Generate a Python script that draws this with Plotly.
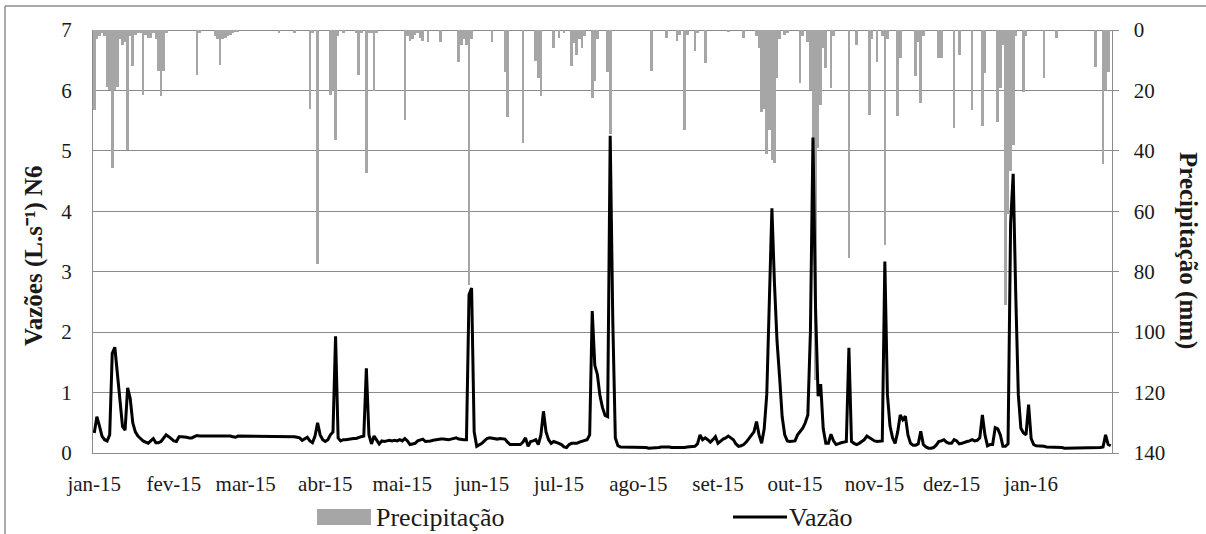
import datetime as dt
import plotly.graph_objects as go

# ---------------- data (daily, 2015-01-01 .. 2016-02-01) ----------------
rotulos_meses = ["jan-15", "fev-15", "mar-15", "abr-15", "mai-15", "jun-15", "jul-15",
                 "ago-15", "set-15", "out-15", "nov-15", "dez-15", "jan-16"]

# Vazão (L/s) - N6
vazao_jan15 = [0.33, 0.6, 0.45, 0.28, 0.22, 0.2, 0.3, 1.65, 1.75, 1.3, 0.8, 0.44, 0.38, 1.08, 0.9, 0.5,
               0.35, 0.28, 0.24, 0.2, 0.18, 0.16, 0.2, 0.24, 0.17, 0.17, 0.19, 0.25, 0.3, 0.27, 0.24]
vazao_fev15 = [0.2, 0.19, 0.27, 0.27, 0.27, 0.26, 0.25, 0.25, 0.27, 0.29, 0.28, 0.28, 0.28, 0.28,
               0.28, 0.28, 0.28, 0.29, 0.28, 0.28, 0.28, 0.28, 0.28, 0.27, 0.26, 0.28, 0.28, 0.28]
vazao_mar15 = [0.28, 0.28, 0.27, 0.28, 0.27, 0.27, 0.28, 0.27, 0.27, 0.28, 0.27, 0.27, 0.27, 0.28, 0.27,
               0.27, 0.27, 0.28, 0.27, 0.27, 0.26, 0.25, 0.21, 0.24, 0.26, 0.2, 0.17, 0.28, 0.5, 0.3, 0.22]
vazao_abr15 = [0.19, 0.22, 0.3, 0.35, 1.93, 0.25, 0.2, 0.22, 0.22, 0.23, 0.23, 0.24, 0.24, 0.26, 0.27,
               0.28, 1.4, 0.3, 0.15, 0.28, 0.22, 0.15, 0.2, 0.19, 0.2, 0.21, 0.2, 0.21, 0.2, 0.22]
vazao_mai15 = [0.2, 0.24, 0.2, 0.14, 0.15, 0.16, 0.2, 0.22, 0.23, 0.19, 0.19, 0.2, 0.21, 0.22, 0.22, 0.23,
               0.23, 0.22, 0.22, 0.23, 0.24, 0.25, 0.23, 0.22, 0.22, 0.22, 2.62, 2.73, 0.35, 0.11, 0.13]
vazao_jun15 = [0.16, 0.2, 0.24, 0.25, 0.24, 0.23, 0.23, 0.24, 0.24, 0.23, 0.18, 0.14, 0.14, 0.14, 0.15,
               0.14, 0.18, 0.25, 0.11, 0.19, 0.2, 0.22, 0.14, 0.3, 0.69, 0.35, 0.22, 0.16, 0.19, 0.18]
vazao_jul15 = [0.16, 0.14, 0.1, 0.09, 0.14, 0.16, 0.16, 0.16, 0.18, 0.19, 0.2, 0.22, 0.3, 2.35, 1.45, 1.3,
               0.95, 0.75, 0.62, 0.6, 5.25, 2.2, 0.25, 0.12, 0.1, 0.1, 0.1, 0.1, 0.1, 0.1, 0.1]
vazao_ago15 = [0.1, 0.09, 0.09, 0.09, 0.08, 0.08, 0.08, 0.09, 0.09, 0.1, 0.1, 0.11, 0.1, 0.09, 0.09, 0.08,
               0.08, 0.08, 0.09, 0.1, 0.1, 0.1, 0.11, 0.15, 0.3, 0.22, 0.25, 0.22, 0.18, 0.22, 0.27]
vazao_set15 = [0.16, 0.2, 0.23, 0.25, 0.28, 0.25, 0.22, 0.15, 0.11, 0.12, 0.14, 0.18, 0.24, 0.3, 0.35,
               0.52, 0.3, 0.16, 0.4, 0.97, 2.6, 4.05, 2.8, 1.85, 1.25, 0.6, 0.3, 0.2, 0.19, 0.19]
vazao_out15 = [0.2, 0.3, 0.36, 0.41, 0.5, 0.63, 2.0, 5.22, 2.4, 0.94, 1.14, 0.4, 0.16, 0.16, 0.31, 0.2,
               0.14, 0.16, 0.17, 0.18, 0.19, 1.74, 0.19, 0.16, 0.14, 0.16, 0.19, 0.22, 0.28, 0.25, 0.22]
vazao_nov15 = [0.2, 0.19, 0.19, 0.2, 3.17, 0.97, 0.45, 0.25, 0.16, 0.35, 0.63, 0.55, 0.61, 0.3, 0.16,
               0.13, 0.13, 0.15, 0.36, 0.14, 0.1, 0.08, 0.08, 0.09, 0.13, 0.19, 0.2, 0.22, 0.18, 0.16]
vazao_dez15 = [0.16, 0.22, 0.2, 0.15, 0.16, 0.18, 0.19, 0.2, 0.22, 0.2, 0.21, 0.25, 0.63, 0.3, 0.12, 0.14,
               0.14, 0.42, 0.4, 0.3, 0.11, 0.11, 0.15, 3.8, 4.62, 2.62, 0.97, 0.41, 0.33, 0.3, 0.8]
vazao_jan16 = [0.24, 0.14, 0.12, 0.12, 0.12, 0.11, 0.1, 0.1, 0.09, 0.09, 0.09, 0.09, 0.09, 0.08, 0.08,
               0.08, 0.08, 0.08, 0.08, 0.08, 0.08, 0.08, 0.08, 0.09, 0.08, 0.08, 0.08, 0.09, 0.1, 0.3, 0.14]
vazao_fev16 = [0.12]

# Precipitação (mm)
chuva_jan15 = [26.5, 3, 2, 1, 2, 19, 20, 45.8, 19.8, 19, 3, 5, 4, 39.7, 2, 12, 1.5, 1, 1, 21.5, 1.5,
               2.5, 2.5, 1, 3, 13.5, 22, 13.6, 1, 0, 0]
chuva_fev15 = [0, 0, 0, 0, 0, 0, 0, 0, 0, 15, 1, 0, 0, 0, 0, 0, 2, 3, 11.6, 3, 2.5, 2, 1.5, 1, 0.8,
               0.5, 0, 0]
chuva_mar15 = [0, 0, 0, 0, 0, 0, 0, 0, 0, 0, 0, 0, 0, 1, 0, 0, 0, 0, 0, 1, 0, 0, 0, 0, 0, 26, 1, 0,
               77.5, 0, 0]
chuva_abr15 = [0, 0, 21.5, 20, 36.5, 2, 0, 1, 0, 0, 0, 0, 1, 14.9, 1, 0, 47.4, 1, 1, 20.3, 1, 0, 0, 0,
               0, 0, 0, 0, 0, 0]
chuva_mai15 = [0, 29.8, 2, 3.5, 3, 1.5, 1, 2.5, 3.5, 0, 3.9, 0, 0, 0, 0, 3.9, 0, 0, 0, 0, 0, 0, 10.5,
               4.9, 3, 4.9, 84.3, 3, 0, 0, 0]
chuva_jun15 = [0, 0, 0, 0, 3.9, 0, 0, 0, 0, 13.8, 28.7, 0, 0, 0, 0, 0, 37.5, 0, 0, 0, 0, 10.4, 16, 22,
               0, 0, 0, 0, 6, 0]
chuva_jul15 = [2.6, 0, 1, 0, 0, 12, 4.4, 8.2, 3, 6, 2, 0, 0, 22.5, 17, 3, 0, 0, 0, 13.8, 34.5, 0, 0, 0,
               0, 0, 0, 0, 0, 0, 0]
chuva_ago15 = [0, 0, 0, 0, 0, 13.5, 0, 0, 0, 0, 0, 2.6, 0, 0, 0, 3.8, 1.5, 0, 33.1, 1.5, 0, 0, 7, 1, 0,
               0, 11, 0, 0, 0, 0]
chuva_set15 = [0, 0, 0, 0, 0.8, 0, 0, 0, 0, 0, 2.8, 0, 0, 0, 0, 2, 6, 27, 26, 41, 33, 43, 44, 16, 3, 0,
               1.5, 1, 0, 0]
chuva_out15 = [0, 0, 17.5, 2, 0, 4, 20, 38.6, 116, 39, 24.7, 6, 12.5, 0, 19.3, 2, 0, 0, 0, 0, 0, 75.5,
               0, 0, 5, 0, 0, 0, 0, 28, 3]
chuva_nov15 = [0, 10.6, 0, 2, 71, 3, 0, 0, 0, 28.6, 9.3, 0, 0, 0, 0, 0, 15.3, 4, 24.2, 2, 0, 0, 0, 0,
               0, 9.3, 9.3, 0, 0, 0]
chuva_dez15 = [0, 32.4, 0, 8.2, 0, 0, 0, 0, 26.4, 0, 0, 0, 31.9, 14.3, 0, 0, 0, 0, 30.3, 19.2, 5, 91,
               61, 46.8, 38, 2, 0, 0, 20.4, 2, 0]
chuva_jan16 = [0, 0, 0, 0, 0, 16, 0, 0, 0, 0, 2.6, 0, 0, 0, 0, 0, 0, 0, 0, 0, 0, 0, 0, 0, 0, 12.3, 0,
               0, 44.5, 20, 14]
chuva_fev16 = [0]

vazao = (vazao_jan15 + vazao_fev15 + vazao_mar15 + vazao_abr15 + vazao_mai15 + vazao_jun15 +
         vazao_jul15 + vazao_ago15 + vazao_set15 + vazao_out15 + vazao_nov15 + vazao_dez15 +
         vazao_jan16 + vazao_fev16)
chuva = (chuva_jan15 + chuva_fev15 + chuva_mar15 + chuva_abr15 + chuva_mai15 + chuva_jun15 +
         chuva_jul15 + chuva_ago15 + chuva_set15 + chuva_out15 + chuva_nov15 + chuva_dez15 +
         chuva_jan16 + chuva_fev16)

inicio = dt.datetime(2015, 1, 1)
datas = [(inicio + dt.timedelta(days=i)).strftime("%Y-%m-%d") for i in range(len(vazao))]
inicios_mes = ["%d-%02d-01" % (2015 + (m // 12), m % 12 + 1) for m in range(13)]

# ---------------- layout helpers (pixel -> paper) ----------------
W, H = 1206, 534
PL, PR, PT, PB = 93, 1112, 30, 453
def px(x):
    return (x - PL) / (PR - PL)
def py(y):
    return (PB - y) / (PB - PT)

FONT = "Liberation Serif"
GRID = "#8c8c8c"
TXT = "#1a1a1a"
CLEAR = "rgba(0,0,0,0)"

fig = go.Figure()
fig.add_trace(go.Bar(x=datas, y=chuva, yaxis="y", name="Precipitação",
                     marker=dict(color="#A6A6A6", line=dict(width=0)),
                     width=86400000 * 1.05))
fig.add_trace(go.Scatter(x=datas, y=vazao, yaxis="y2", name="Vazão", mode="lines",
                         line=dict(color="black", width=3)))

fig.update_layout(
    width=W, height=H,
    margin=dict(l=PL, r=W - PR, t=PT, b=H - PB),
    paper_bgcolor="white", plot_bgcolor="white",
    showlegend=False,
    font=dict(family=FONT, size=21, color=TXT),
    xaxis=dict(type="date",
               range=["2014-12-31 12:00", "2016-02-01 12:00"],
               tickmode="array", tickvals=inicios_mes, ticktext=rotulos_meses,
               showgrid=False, showline=True, linecolor=GRID, linewidth=1.3,
               ticks="outside", ticklen=12, tickcolor=CLEAR,
               tickfont=dict(family=FONT, size=21, color=TXT)),
    yaxis=dict(side="right", range=[140, 0], tick0=0, dtick=20,
               showgrid=True, gridcolor=GRID, gridwidth=1.3,
               zeroline=True, zerolinecolor=GRID, zerolinewidth=1.3,
               showline=True, linecolor=GRID, linewidth=1.3,
               ticks="outside", ticklen=6, tickcolor=GRID, tickwidth=1.3,
               tickprefix="\u00a0\u00a0",
               tickfont=dict(family=FONT, size=21, color=TXT)),
    yaxis2=dict(overlaying="y", side="left", range=[0, 7], tick0=0, dtick=1,
                showgrid=False, zeroline=False,
                showline=True, linecolor=GRID, linewidth=1.3,
                ticks="outside", ticklen=16, tickcolor=CLEAR,
                tickfont=dict(family=FONT, size=21, color=TXT)),
    bargap=0,
)

shapes = [
    dict(type="line", xref="paper", yref="paper", x0=px(5), x1=px(1206), y0=py(6), y1=py(6),
         line=dict(color=GRID, width=1.5)),
    dict(type="line", xref="paper", yref="paper", x0=px(5), x1=px(5), y0=py(6), y1=py(534),
         line=dict(color=GRID, width=1.5)),
    dict(type="rect", xref="paper", yref="paper", x0=px(317), x1=px(371), y0=py(525), y1=py(509),
         fillcolor="#A6A6A6", line=dict(width=0)),
    dict(type="line", xref="paper", yref="paper", x0=px(733), x1=px(787), y0=py(517), y1=py(517),
         line=dict(color="black", width=3)),
]
annotations = [
    dict(text="Precipitação", xref="paper", yref="paper", x=px(374), y=py(517),
         xanchor="left", yanchor="middle", showarrow=False,
         font=dict(family=FONT, size=26, color=TXT)),
    dict(text="Vazão", xref="paper", yref="paper", x=px(787), y=py(517),
         xanchor="left", yanchor="middle", showarrow=False,
         font=dict(family=FONT, size=26, color=TXT)),
    dict(text="<b>Vazões (L.s\u207b\u00b9) N6</b>", xref="paper", yref="paper", x=px(34), y=py(256),
         xanchor="center", yanchor="middle", textangle=-90, showarrow=False,
         font=dict(family=FONT, size=25, color=TXT)),
    dict(text="<b>Precipitação (mm)</b>", xref="paper", yref="paper", x=px(1188), y=py(250),
         xanchor="center", yanchor="middle", textangle=90, showarrow=False,
         font=dict(family=FONT, size=25, color=TXT)),
]
fig.update_layout(shapes=shapes, annotations=annotations)

fig.write_html("out.html")
